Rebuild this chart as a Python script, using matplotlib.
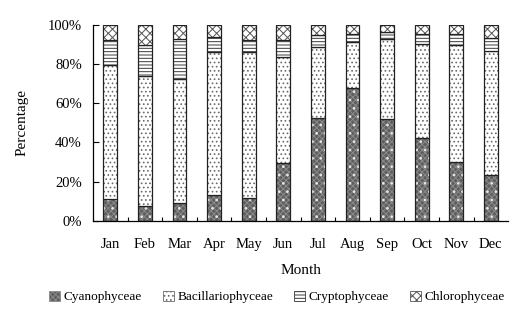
import matplotlib
matplotlib.use("Agg")
import matplotlib.pyplot as plt
import numpy as np
from matplotlib.patches import Patch
from matplotlib.ticker import FuncFormatter, FixedLocator

plt.rcParams['font.family'] = ['Liberation Serif', 'DejaVu Serif']
plt.rcParams['hatch.linewidth'] = 0.7

months = ["Jan", "Feb", "Mar", "Apr", "May", "Jun",
          "Jul", "Aug", "Sep", "Oct", "Nov", "Dec"]
# percentage of each group per month
cyanophyceae = [11.4, 7.7, 9.2, 13.4, 11.9, 29.4, 52.7, 67.9, 52.2, 42.5, 29.8, 23.2]
bacillariophyceae = [68.0, 66.3, 63.4, 72.8, 74.0, 54.0, 36.1, 23.4, 40.5, 47.7, 59.7, 63.5]
cryptophyceae = [13.1, 15.8, 20.1, 7.8, 6.3, 9.1, 5.9, 4.0, 3.6, 4.9, 5.6, 6.5]
chlorophyceae = [7.5, 10.2, 7.3, 6.0, 7.8, 7.5, 5.3, 4.7, 3.7, 4.9, 4.9, 6.8]

groups = ["Cyanophyceae", "Bacillariophyceae", "Cryptophyceae", "Chlorophyceae"]
series = [cyanophyceae, bacillariophyceae, cryptophyceae, chlorophyceae]
# fill layers per group: (face, hatch colour, hatch)
layers = [
    [("#5e5e5e", "#8a8a8a", "xxxxxx"), ("none", "#e8e8e8", "..")],
    [("white", "#6a6a6a", "....")],
    [("white", "#3a3a3a", "-----")],
    [("white", "#555555", "xxxx")],
]

fig = plt.figure(figsize=(5.18, 3.22), dpi=100)
ax = fig.add_axes([0.1795, 0.314, 0.8015, 0.609])

x = np.arange(len(months))
width = 0.4
bottom = np.zeros(len(months))
for vals, lay in zip(series, layers):
    v = np.array(vals) / 100.0
    for fc, hc, h in lay:
        ax.bar(x, v, width, bottom=bottom, color=fc, edgecolor=hc, hatch=h, linewidth=0)
    ax.bar(x, v, width, bottom=bottom, fill=False, edgecolor="#222222", linewidth=0.9)
    bottom += v

ax.set_xlim(-0.5, len(months) - 0.5)
ax.set_ylim(0, 1.0)
ax.yaxis.set_major_locator(FixedLocator([0, 0.2, 0.4, 0.6, 0.8, 1.0]))
ax.yaxis.set_major_formatter(FuncFormatter(lambda v, p: f"{v*100:.0f}%"))
ax.set_xticks(x)
ax.set_xticklabels(months)
ax.set_xticks(np.arange(0.5, len(months) - 0.5, 1.0), minor=True)
ax.tick_params(axis="x", which="major", length=0, pad=12, labelsize=10.5)
ax.tick_params(axis="x", which="minor", direction="in", length=3, width=0.8)
ax.tick_params(axis="y", direction="in", length=4, width=0.8, labelsize=10.5, pad=8)

for s in ["top", "right"]:
    ax.spines[s].set_visible(False)
for s in ["left", "bottom"]:
    ax.spines[s].set_linewidth(0.9)

ax.set_xlabel("Month", fontsize=11, labelpad=10)
ax.set_ylabel("Percentage", fontsize=11, labelpad=14)

handles = [Patch(facecolor=lay[0][0], edgecolor=lay[0][1], hatch=lay[0][2], linewidth=0.6)
           for lay in layers]
fig.legend(handles, groups, loc="center", bbox_to_anchor=(0.535, 0.078), ncol=4,
           frameon=False, fontsize=9.5, handlelength=0.8, handleheight=0.8,
           handletextpad=0.3, columnspacing=1.6)

fig.savefig("out.png", dpi=100)
